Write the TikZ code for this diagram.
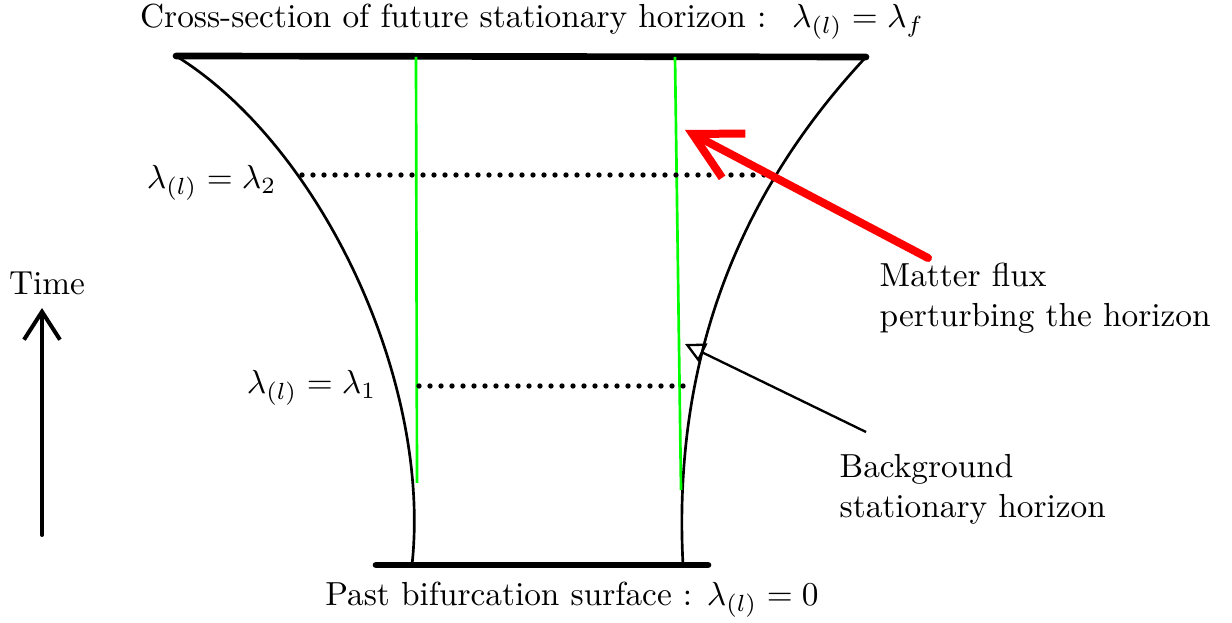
\documentclass[tikz,border=0pt]{standalone}
\usepackage{amsmath}
\usetikzlibrary{arrows.meta}

\begin{document}
\begin{tikzpicture}[x=0.3pt,y=-0.3pt,
      surf/.style={line width=2pt,line cap=round},
      hor/.style={line width=0.8pt},
      gen/.style={draw=green,line width=0.8pt},
      slice/.style={line width=1.6pt,line cap=round,dash pattern=on 0pt off 3.3pt},
      txt/.style={inner sep=0pt,align=left},
      flux/.style={draw=red,line width=2.4pt,line cap=round,line join=round,-{Straight Barb[length=14pt,width=15pt]}},
      bgar/.style={line width=0.7pt,-{Triangle[open,length=6pt,width=6pt]}},
      timear/.style={line width=1.2pt,line cap=round,-{Straight Barb[length=8.4pt,width=10.8pt]}}]
      \useasboundingbox (0,0) rectangle (1232,623);
      % corner points of the horizon
      \coordinate (tl) at (176,56);
      \coordinate (tr) at (866,57);
      \coordinate (bl) at (412,565);
      \coordinate (br) at (683,565);
      % cross-sections
      \draw[surf] (tl) -- (tr);
      \draw[surf] (376,565) -- (708,565);
      \draw[hor] (tl) .. controls (320,145) and (432,380) .. (bl);
      \draw[hor] (tr) .. controls (770,160) and (670,320) .. (br);
      % generators
      \draw[gen] (416,57) -- (417,483);
      \draw[gen] (675,57) -- (681,490);
      % constant lambda slices
      \draw[slice] (302,175) -- (772,175);
      \draw[slice] (419,386) -- (693,386);
      % labels
      \node[txt] (top) at (532,22) {Cross-section of future stationary horizon : \ $\lambda_{(l)} = \lambda_f$};
      \node[txt] (bot) at (572,600) {Past bifurcation surface : $\lambda_{(l)} = 0$};
      \node[txt,anchor=east] (ltwo) at (277,183) {$\lambda_{(l)} = \lambda_2$};
      \node[txt,anchor=east] (lone) at (377,388) {$\lambda_{(l)} = \lambda_1$};
      \node[txt] (time) at (47,283) {Time};
      \node[txt,anchor=north west] (matter) at (879,262) {Matter flux\\perturbing the horizon};
      \node[txt,anchor=north west] (backg) at (839,454) {Background\\stationary horizon};
      % arrows
      \coordinate (ftail) at (928,258);
      \coordinate (fhead) at (685,130);
      \draw[flux] (ftail) -- (fhead);
      \coordinate (btail) at (866,432);
      \coordinate (bhead) at (685,344);
      \draw[bgar] (btail) -- (bhead);
      \coordinate (ttail) at (42,535);
      \coordinate (thead) at (42,308);
      \draw[timear] (ttail) -- (thead);
    \end{tikzpicture}
\end{document}
